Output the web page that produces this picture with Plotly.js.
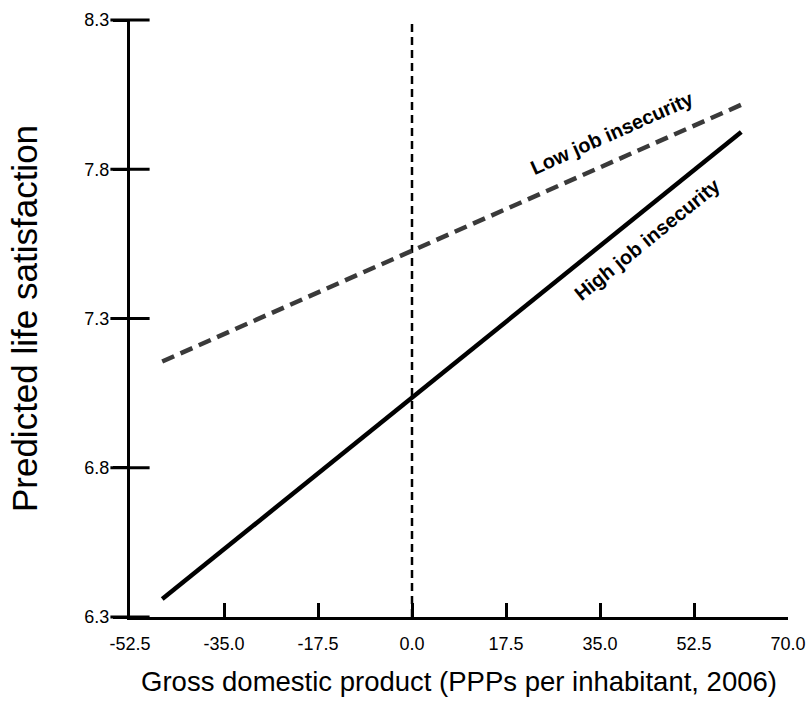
<!DOCTYPE html>
<html>
<head>
<meta charset="utf-8">
<script src="https://cdn.plot.ly/plotly-3.0.1.min.js"></script>
<style>html,body{margin:0;padding:0;background:#fff;}#chart{width:811px;height:711px;}</style>
</head>
<body>
<div id="chart"></div>
<script>
// Data
var gdpRange = [-46.5, 61.3];               // GDP (centered) endpoints
var highInsecurity = [6.36, 7.925];         // predicted life satisfaction, high job insecurity
var lowInsecurity = [7.156, 8.016];         // predicted life satisfaction, low job insecurity
var refLineX = [0, 0];                      // mean GDP reference line
var refLineY = [6.3, 8.3];
var xRange = [-52.5, 70];
var yRange = [6.3, 8.3];
var xTickVals = [-52.5, -35.0, -17.5, 0.0, 17.5, 35.0, 52.5, 70.0];
var xTickText = ['-52.5', '-35.0', '-17.5', '0.0', '17.5', '35.0', '52.5', '70.0'];
var yTickVals = [6.3, 6.8, 7.3, 7.8, 8.3];
var yTickText = ['6.3', '6.8', '7.3', '7.8', '8.3'];

var traces = [
  {x: refLineX, y: refLineY, mode: 'lines', line: {color: '#000', width: 2.5, dash: '8px,5px'}, hoverinfo: 'skip'},
  {x: gdpRange, y: lowInsecurity, mode: 'lines', name: 'Low job insecurity', line: {color: '#3a3a3a', width: 4.5, dash: '13px,7px'}},
  {x: gdpRange, y: highInsecurity, mode: 'lines', name: 'High job insecurity', line: {color: '#000', width: 4.5}},
  // y-axis tick marks crossing the axis line (drawn at each y tick value on the axis)
  {x: yTickVals.map(function () { return xRange[0]; }), y: yTickVals, mode: 'markers', cliponaxis: false, hoverinfo: 'skip',
   marker: {symbol: 'line-ew', size: 28, color: '#000', line: {color: '#000', width: 3}}}
];

var font = 'Liberation Sans, Arial, sans-serif';
var layout = {
  width: 811, height: 711,
  margin: {l: 130, r: 23, t: 20, b: 94},
  paper_bgcolor: '#fff', plot_bgcolor: '#fff',
  showlegend: false,
  font: {family: font, color: '#000'},
  xaxis: {
    range: xRange, tickmode: 'array', tickvals: xTickVals, ticktext: xTickText,
    showline: true, linecolor: '#000', linewidth: 3,
    ticks: 'inside', ticklen: 14, tickwidth: 3, tickcolor: '#000',
    ticklabelstandoff: 8,
    showgrid: false, zeroline: false,
    tickfont: {size: 18, family: font},
    title: {text: 'Gross domestic product (PPPs per inhabitant, 2006)', font: {size: 27.5, family: font}, standoff: 20},
    automargin: false
  },
  yaxis: {
    range: yRange, tickmode: 'array', tickvals: yTickVals, ticktext: yTickText,
    showline: true, linecolor: '#000', linewidth: 3,
    ticks: 'outside', ticklen: 14, tickwidth: 3, tickcolor: '#000',
    showgrid: false, zeroline: false,
    tickfont: {size: 18, family: font},
    title: {text: 'Predicted life satisfaction', font: {size: 35, family: font}, standoff: 37},
    automargin: false
  },
  annotations: [
    {x: 37.2, y: 7.921, xref: 'x', yref: 'y', text: '<b>Low job insecurity</b>', showarrow: false, textangle: -24, font: {size: 20, family: font, color: '#000'}},
    {x: 43.9, y: 7.566, xref: 'x', yref: 'y', text: '<b>High job insecurity</b>', showarrow: false, textangle: -39, font: {size: 20, family: font, color: '#000'}}
  ]
};

Plotly.newPlot('chart', traces, layout, {displayModeBar: false, staticPlot: true});
</script>
</body>
</html>
